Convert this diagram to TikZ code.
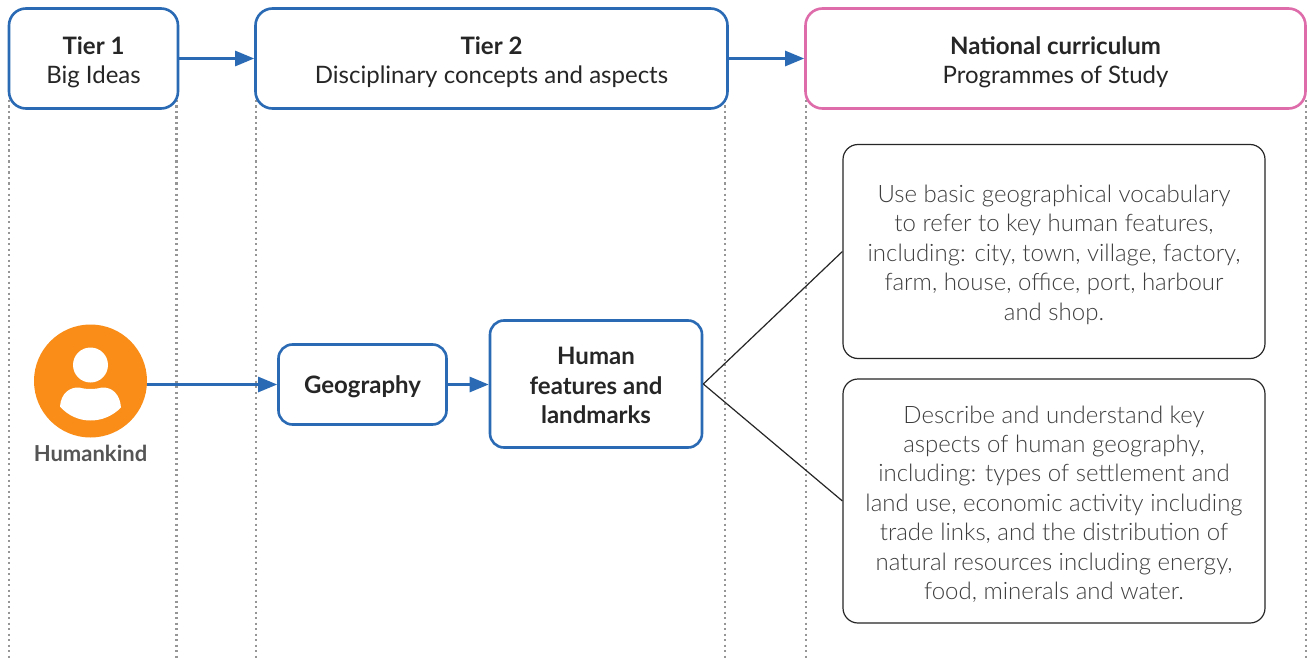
\documentclass[tikz,border=0pt]{standalone}
\usepackage{fontspec}
\setmainfont{Lato}
\usetikzlibrary{arrows.meta}
\definecolor{tierblue}{HTML}{2A6AB5}
\definecolor{tierpink}{HTML}{DE6CAB}
\definecolor{dotgray}{HTML}{969696}
\definecolor{txtdark}{HTML}{262626}
\definecolor{txtgray}{HTML}{555555}
\definecolor{notegray}{HTML}{3E3E3E}
\definecolor{iconorange}{HTML}{F98D18}
\tikzset{
  x=1pt,y=-1pt,
  hdr/.style={draw=tierblue,line width=2.6pt,rounded corners=17pt,fill=white,inner sep=0pt},
  flow/.style={draw=tierblue,line width=2.6pt,rounded corners=14pt,fill=white,inner sep=0pt},
  note/.style={draw=txtdark,line width=1.2pt,rounded corners=15pt,fill=white,inner sep=0pt},
  hdrtxt/.style={inner sep=0pt,align=center,text=txtdark,yshift=-3.7pt,font=\fontsize{24}{29.3}\selectfont},
  flowtxt/.style={inner sep=0pt,align=center,text=txtdark,font=\fontsize{24}{29.5}\selectfont\bfseries},
  notetxt/.style={inner sep=0pt,align=center,text=notegray,yshift=-3.2pt,font=\fontsize{24}{29.45}\selectfont\fontspec{Lato Light}},
  guide/.style={draw=dotgray,line width=2.2pt,dash pattern=on 2.2pt off 3.3pt},
  conn/.style={draw=tierblue,line width=2.6pt,-{Triangle[length=19pt,width=15pt]}},
  fan/.style={draw=txtdark,line width=1.2pt},
}
\begin{document}
\begin{tikzpicture}
\useasboundingbox (0,0) rectangle (1309,658);
\fill[white] (0,0) rectangle (1309,658);
\foreach \gx in {9.3,176.5,256,725,805.7,1306}{
  \draw[guide] (\gx,100) -- (\gx,658);
}
\node[hdr,minimum width=169pt,minimum height=100pt,label={[hdrtxt]center:\textbf{Tier 1}\\Big Ideas}] (t1) at (93.5,58.5) {};
\node[hdr,minimum width=472pt,minimum height=100pt,label={[hdrtxt]center:\textbf{Tier 2}\\Disciplinary concepts and aspects}] (t2) at (491.5,58.5) {};
\node[hdr,draw=tierpink,minimum width=500pt,minimum height=100pt,label={[hdrtxt]center:\textbf{National curriculum}\\Programmes of Study}] (nc) at (1055.5,58.5) {};
\draw[conn] (t1) -- (t2);
\draw[conn] (t2) -- (nc);
% person
\node[circle,fill=iconorange,minimum size=113pt,inner sep=0pt] (hk) at (90.5,381) {};
\fill[white] (90.5,365) circle (17.5);
\fill[white] (60,406.5) .. controls (61,393) and (70,387) .. (79,387.5)
  .. controls (86,389.5) and (95,389.5) .. (102,387.5)
  .. controls (112,387) and (120,394) .. (121,407.5)
  .. controls (104,425) and (76,425) .. (60,406.5) -- cycle;
\node[text=txtgray,font=\fontsize{22}{26}\selectfont\bfseries,inner sep=0pt] (hkl) at (90.5,453.5) {Humankind};
\node[flow,minimum width=168pt,minimum height=80pt,label={[flowtxt,yshift=-2.6pt]center:Geography}] (geo) at (362.5,384.5) {};
\node[flow,minimum width=212pt,minimum height=127pt,label={[flowtxt,yshift=-1.6pt]center:Human\\features and\\landmarks}] (hf) at (596,384) {};
\draw[conn] (geo.west -| hk.east) -- (geo.west);
\draw[conn] (geo.east) -- (geo.east -| hf.west);
\node[note,minimum width=422pt,minimum height=214pt,label={[notetxt]center:Use basic geographical vocabulary\\to refer to key human features,\\including: city, town, village, factory,\\farm, house, office, port, harbour\\and shop.}] (n1) at (1054,251.5) {};
\node[note,minimum width=422pt,minimum height=244pt,label={[notetxt]center:Describe and understand key\\aspects of human geography,\\including: types of settlement and\\land use, economic activity including\\trade links, and the distribution of\\natural resources including energy,\\food, minerals and water.}] (n2) at (1054,501) {};
\draw[fan] (hf.east) -- (n1.west);
\draw[fan] (hf.east) -- (n2.west);
\end{tikzpicture}
\end{document}
